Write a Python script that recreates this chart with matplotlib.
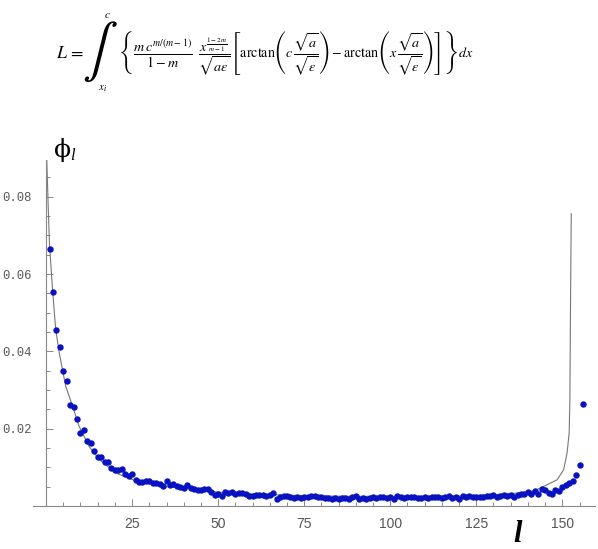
import matplotlib
matplotlib.use("Agg")
import matplotlib.pyplot as plt
from matplotlib.ticker import FixedLocator

plt.rcParams['mathtext.fontset'] = 'stix'

# Simulated / measured values phi_l for l = 1..156
phi_values = [
    0.0665, 0.0553, 0.0455, 0.0410, 0.0349, 0.0323, 0.0262, 0.0255, 0.0225, 0.0189,
    0.0196, 0.0167, 0.0164, 0.0142, 0.0128, 0.0128, 0.0113, 0.0113, 0.0099, 0.0094,
    0.0093, 0.0096, 0.0083, 0.0077, 0.0083, 0.0068, 0.0062, 0.0062, 0.0064, 0.0065,
    0.0060, 0.0059, 0.0057, 0.0052, 0.0065, 0.0054, 0.0056, 0.0053, 0.0050, 0.0046,
    0.0054, 0.0047, 0.0044, 0.0042, 0.0041, 0.0043, 0.0044, 0.0035, 0.0029, 0.0031,
    0.0026, 0.0037, 0.0034, 0.0037, 0.0032, 0.0033, 0.0033, 0.0032, 0.0027, 0.0026,
    0.0028, 0.0028, 0.0029, 0.0027, 0.0028, 0.0034, 0.0018, 0.0022, 0.0025, 0.0027,
    0.0022, 0.0021, 0.0022, 0.0020, 0.0023, 0.0022, 0.0025, 0.0027, 0.0024, 0.0023,
    0.0021, 0.0020, 0.0019, 0.0021, 0.0019, 0.0020, 0.0021, 0.0019, 0.0022, 0.0025,
    0.0019, 0.0020, 0.0018, 0.0021, 0.0024, 0.0021, 0.0023, 0.0024, 0.0021, 0.0022,
    0.0018, 0.0025, 0.0022, 0.0020, 0.0023, 0.0022, 0.0024, 0.0021, 0.0020, 0.0023,
    0.0021, 0.0024, 0.0022, 0.0023, 0.0021, 0.0022, 0.0025, 0.0021, 0.0022, 0.0019,
    0.0027, 0.0023, 0.0025, 0.0022, 0.0024, 0.0023, 0.0024, 0.0026, 0.0025, 0.0028,
    0.0024, 0.0027, 0.0029, 0.0025, 0.0028, 0.0024, 0.0029, 0.0032, 0.0030, 0.0036,
    0.0031, 0.0039, 0.0030, 0.0045, 0.0041, 0.0033, 0.0030, 0.0042, 0.0040, 0.0050,
    0.0055, 0.0060, 0.0065, 0.0080, 0.0105, 0.0265,
]
l_values = list(range(1, len(phi_values) + 1))

# Theoretical curve
curve_l = [0.2, 0.6, 1.0, 2.0, 2.8, 3.8, 5.7, 7.7, 9.6, 12.5, 15.5, 20.3, 25.2, 30, 35,
           44.6, 50, 60, 70, 80, 90, 100, 110, 120, 130, 138, 142, 145.6, 148.5,
           150.4, 151.4, 152.0, 152.2, 152.4, 152.6]
curve_phi = [0.0895, 0.078, 0.0675, 0.0545, 0.0457, 0.0397, 0.0310, 0.0258, 0.0206,
             0.0154, 0.0120, 0.0085, 0.0068, 0.0058, 0.0050, 0.0042, 0.0036, 0.0031,
             0.0028, 0.0026, 0.0025, 0.0025, 0.0025, 0.0026, 0.0029, 0.0034, 0.0040,
             0.0055, 0.0068, 0.0094, 0.0138, 0.0190, 0.0275, 0.0535, 0.0756]

x_major = [25, 50, 75, 100, 125, 150]
y_major = [0.02, 0.04, 0.06, 0.08]
y_labels = ["0.02", "0.04", "0.06", "0.08"]

W, H = 598, 549
fig = plt.figure(figsize=(W / 100, H / 100), dpi=100)
ax = fig.add_axes([33 / W, (H - 506) / H, (595 - 33) / W, (506 - 160) / H])

ax.plot(curve_l, curve_phi, color='#777777', lw=0.8, zorder=2)
ax.plot(l_values, phi_values, 'o', color='#0812c0', markersize=4.6,
        markeredgewidth=0, zorder=3)

ax.set_xlim(-3.8, 159.5)
ax.set_ylim(0, 0.0895)

for s in ['top', 'right']:
    ax.spines[s].set_visible(False)
ax.spines['left'].set_position(('data', 0))
ax.spines['bottom'].set_position(('data', 0))
for s in ['left', 'bottom']:
    ax.spines[s].set_color('#888888')
    ax.spines[s].set_linewidth(0.8)

ax.xaxis.set_major_locator(FixedLocator(x_major))
ax.xaxis.set_minor_locator(FixedLocator([v for v in range(5, 160, 5) if v % 25 != 0]))
ax.yaxis.set_major_locator(FixedLocator(y_major))
ax.yaxis.set_minor_locator(FixedLocator([round(0.005 * k, 3) for k in range(1, 18) if k % 4 != 0]))
ax.set_yticklabels(y_labels)

ax.tick_params(axis='both', which='major', direction='in', length=5, width=0.7,
               color='#888888', labelcolor='#555555')
ax.tick_params(axis='both', which='minor', direction='in', length=3, width=0.7,
               color='#888888')
ax.tick_params(axis='x', which='major', pad=8, labelsize=10)
ax.tick_params(axis='y', which='major', pad=10, labelsize=8.8)
for t in ax.get_xticklabels():
    t.set_fontfamily('Liberation Sans')
for t in ax.get_yticklabels():
    t.set_fontfamily('Liberation Mono')

fig.text(54 / W, 1 - 150 / H, '\u03d5', fontsize=18, family='DejaVu Serif',
         va='center', ha='left')
fig.text(70 / W, 1 - 156 / H, 'l', fontsize=12, family='Liberation Serif',
         fontstyle='italic', va='center', ha='left')
fig.text(518 / W, 1 - 535 / H, 'l', fontsize=22, fontweight='bold', fontstyle='italic',
         family='Liberation Serif', ha='center', va='center')

# Equation: "L =", a large integral sign with its limits, then the integrand
fig.text(56 / W, 1 - 53 / H, r'$L\,=$', fontsize=13, ha='left', va='center')
fig.text(82 / W, 1 - 52 / H, r'$\int$', fontsize=38, ha='left', va='center')
fig.text(104 / W, 1 - 15 / H, r'$c$', fontsize=8, ha='left', va='center')
fig.text(98 / W, 1 - 89 / H, r'$x_{i}$', fontsize=8, ha='left', va='center')
eq = (r'$\left\{\dfrac{m\,c^{m/(m-1)}}{1-m}\;\;'
      r'\dfrac{x^{\frac{1-2m}{m-1}}}{\sqrt{a\varepsilon}}'
      r'\left[\mathrm{arctan}\left(c\,\dfrac{\sqrt{a}}{\sqrt{\varepsilon}}\right)-'
      r'\mathrm{arctan}\left(x\,\dfrac{\sqrt{a}}{\sqrt{\varepsilon}}\right)\right]\right\}dx$')
fig.text(118 / W, 1 - 53 / H, eq, fontsize=10.2, ha='left', va='center')

fig.savefig('out.png', dpi=100)
